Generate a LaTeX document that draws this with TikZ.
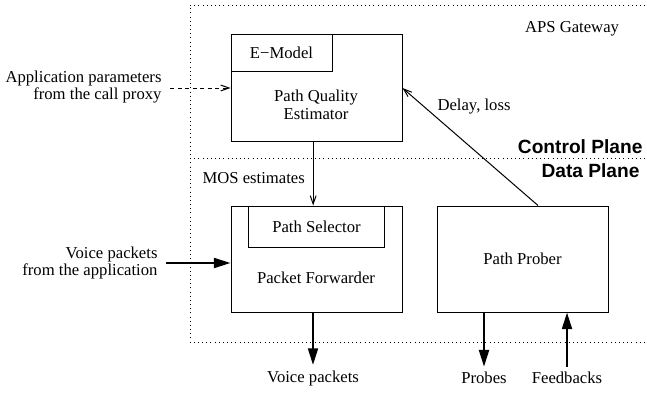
\documentclass[tikz,border=0pt]{standalone}
\usepackage{fontspec}
\setmainfont{Liberation Serif}
\setsansfont{Liberation Sans}
\usetikzlibrary{arrows.meta}

\begin{document}
\begin{tikzpicture}[
  x=0.6pt,
  y=-0.6pt,
  line width=0.6pt,
  every node/.style={font=\fontsize{10}{10.5}\selectfont, inner sep=0pt},
  block/.style={draw, rectangle, minimum width=102.6pt, minimum height=63.6pt},
  subblock/.style={draw, rectangle, anchor=north},
  thin arrow/.style={-{Straight Barb[length=5pt,width=3.5pt]}},
  thick arrow/.style={line width=1.2pt, -{Triangle[length=10pt,width=6pt]}},
  plane/.style={font=\sffamily\bfseries\fontsize{11.5}{13}\selectfont, anchor=east}
]
  \useasboundingbox (0,0) rectangle (647,393);

  % gateway and the two planes
  \draw[dotted, line width=0.5pt] (645,5) -- (190,5) -- (190,342) -- (645,342);
  \draw[dotted, line width=0.5pt] (190,158) -- (645,158);

  \node (gw) at (572,29) {APS Gateway};
  \node[plane] (ctrl) at (643,147) {Control Plane};
  \node[plane] (data) at (640,171) {Data Plane};

  % blocks
  \node[block] (pqe) at (316.5,88) {};
  \node[subblock, anchor=north west, minimum width=60.6pt, minimum height=21.6pt] (emodel) at (pqe.north west) {E−Model};
  \node[align=center] (pqetxt) at (316,105) {Path Quality\\Estimator};

  \node[block] (pf) at (316.5,259) {};
  \node[subblock, minimum width=81.6pt, minimum height=24.6pt] (ps) at (pf.north) {Path Selector};
  \node (pftxt) at (316,278) {Packet Forwarder};

  \node[block] (pp) at (522.5,259) {Path Prober};

  % labels
  \node[align=right, anchor=east] (appl) at (162,87) {Application parameters\\from the call proxy};
  \node[align=right, anchor=east] (voicein) at (158,263) {Voice packets\\from the application};
  \node[anchor=west] (mos) at (202,178) {MOS estimates};
  \node (delay) at (474,107) {Delay, loss};
  \node (voiceout) at (313,378) {Voice packets};
  \node (probes) at (484,378) {Probes};
  \node (feedb) at (567,378) {Feedbacks};

  % connectors
  \draw[thin arrow, dash pattern=on 2.5pt off 2pt] ([xshift=4.8pt]appl.east |- pqe.west) -- (pqe.west);
  \draw[thin arrow] ([xshift=-2pt]pqe.south) -- ([xshift=-2pt]pf.north);
  \draw[thin arrow] ([xshift=9.3pt]pp.north) -- (pqe.east);
  \draw[thick arrow] ([xshift=4.8pt]voicein.east) -- (voicein.east -| pf.west);
  \draw[thick arrow] (voiceout.north |- pf.south) -- ([yshift=3pt]voiceout.north);
  \draw[thick arrow] (probes.north |- pp.south) -- ([yshift=3pt]probes.north);
  \draw[thick arrow] ([yshift=3pt]feedb.north) -- (feedb.north |- pp.south);
\end{tikzpicture}
\end{document}
